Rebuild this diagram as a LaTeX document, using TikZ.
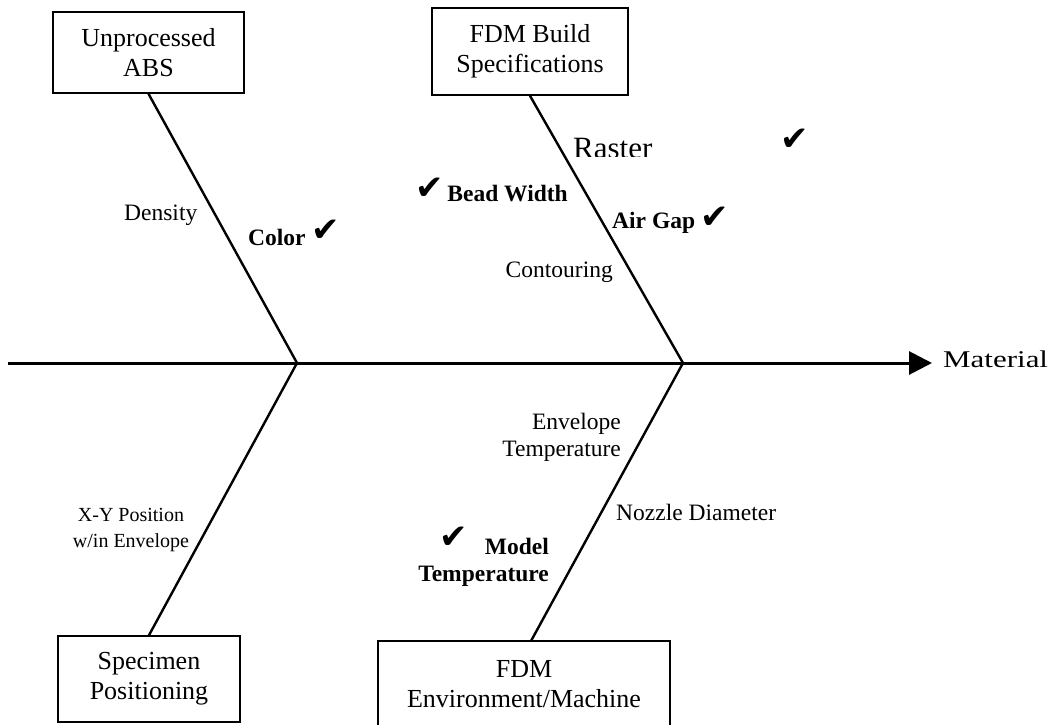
\documentclass[tikz,border=0pt]{standalone}
\usepackage{fontspec}
\setmainfont{Liberation Serif}
\newfontfamily\symfont{DejaVu Sans}
\usetikzlibrary{arrows.meta}
\newcommand{\ck}[1][0pt]{\raisebox{#1}{\symfont\mdseries\fontsize{34}{34}\selectfont ✔}}

\begin{document}
\begin{tikzpicture}[
    x=1pt, y=-1pt,
    catbox/.style={draw, line width=1.6pt, align=center, inner sep=0pt, font=\fontsize{26}{30}\selectfont},
    bone/.style={line width=2.4pt},
    lbl/.style={inner sep=0pt, font=\fontsize{23.5}{27}\selectfont},
    blbl/.style={inner sep=0pt, font=\fontsize{23.5}{27}\selectfont\bfseries},
    ]
    \useasboundingbox (0,0) rectangle (1052,725);

    % category boxes
    \node[catbox, minimum width=191pt, minimum height=81pt] (abs) at (148.5,52.5) {Unprocessed\\ABS};
    \node[catbox, minimum width=196pt, minimum height=87pt] (build) at (530,51.5) {FDM Build\\Specifications};
    \node[catbox, minimum width=182pt, minimum height=86pt] (pos) at (149,679) {Specimen\\Positioning};
    \node[catbox, draw=none, minimum width=290pt, minimum height=84pt, anchor=north] (env) at (524,641) {FDM\\Environment/Machine};
    \draw[line width=1.6pt] ([yshift=-20pt]env.south west) |- (env.north east) -- ([yshift=-20pt]env.south east);

    % spine
    \coordinate (tail) at (8,363);
    \coordinate (head) at (932,363);
    \coordinate (j1) at (297,363);
    \coordinate (j2) at (683,363);
    \draw[line width=3pt, -{Triangle[length=23pt,width=23pt]}] (tail) -- (head);
    \node[anchor=base west, inner sep=0pt, font=\fontsize{24}{24}\selectfont] (mat) at (943,367) {\scalebox{1.29}[1]{Material}};

    % bones
    \draw[bone] (abs.south) -- (j1) -- (pos.north);
    \draw[bone] (build.south) -- (j2) -- ([xshift=7pt]env.north);

    % causes
    \node[lbl, anchor=base west] (density) at (124,220) {Density};
    \node[blbl, anchor=base west] (color) at (248,245) {Color \ck[4pt]};
    \begin{scope}
        \clip (560,100) rectangle (700,156);
        \node[anchor=base west, inner sep=0pt, font=\fontsize{31}{31}\selectfont] (raster) at (573,158.5) {Raster};
    \end{scope}
    \node[inner sep=0pt] (rasterck) at (795,140) {\ck};
    \node[blbl, anchor=base east] (bead) at (568,201) {\ck[2pt]\,Bead Width};
    \node[blbl, anchor=base west] (airgap) at (612,228) {Air Gap\ \ck};
    \node[lbl, anchor=base east] (contour) at (613,277) {Contouring};
    \node[lbl, align=right, anchor=east] (envtemp) at (621,437) {Envelope\\Temperature};
    \node[lbl, anchor=base west] (nozzle) at (616,520) {Nozzle Diameter};
    \node[blbl, align=right, anchor=east] (modeltemp) at (549,557) {\ck[6pt]\hspace{17pt}Model\\Temperature};
    \node[lbl, align=center, font=\fontsize{20}{26}\selectfont] (xy) at (131,530) {X-Y Position\\w/in Envelope};
\end{tikzpicture}
\end{document}
